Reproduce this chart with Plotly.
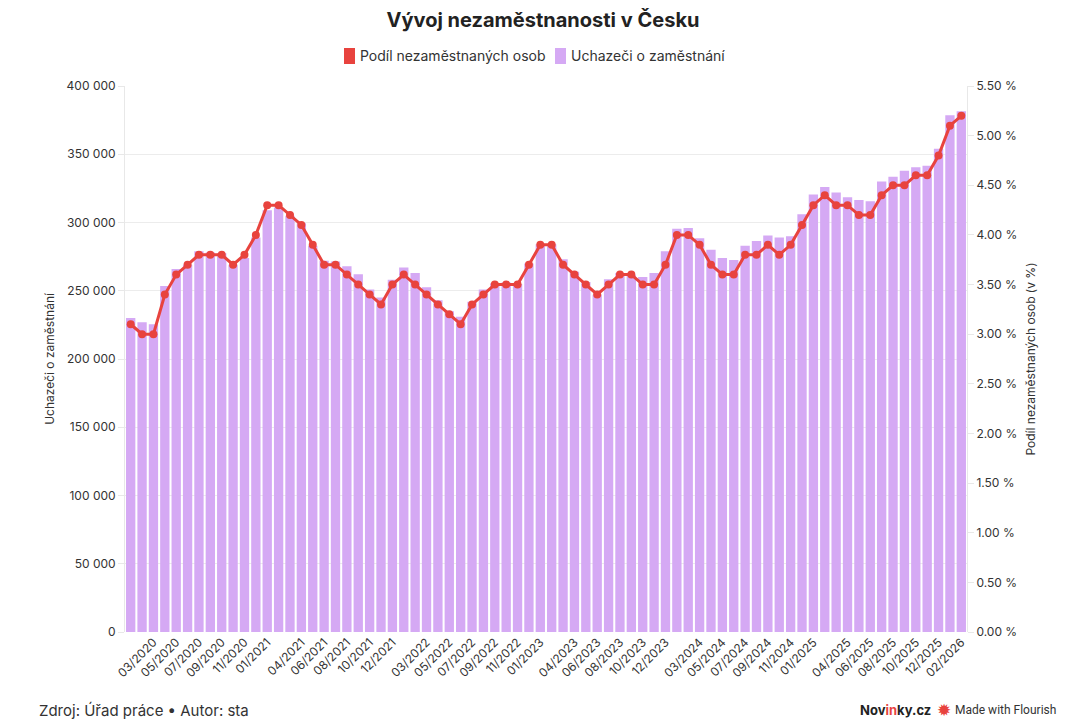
import plotly.graph_objects as go

months = [f"{m:02d}/{y}" for y in range(2020, 2027) for m in range(1, 13)][:74]

uchazeci = [
    230000, 227000, 225500, 253500, 266000, 269000, 279000, 278000, 277500, 269000, 274000, 289000,
    309000, 311000, 305000, 299500, 283000, 272000, 271500, 268000, 262000, 251000, 245000, 258000,
    267000, 263000, 252500, 243000, 235000, 231000, 242000, 251000, 255500, 256000, 255000, 270000,
    284000, 284000, 273000, 264000, 256500, 247000, 258500, 263000, 261500, 260000, 263000, 279000,
    295500, 296000, 288500, 280000, 274000, 272500, 283000, 286500, 290500, 289000, 290000, 306000,
    320500, 326000, 322000, 318500, 316500, 315500, 330000, 333500, 338000, 340500, 341500, 354000,
    378500, 381500,
]

podil = [
    3.1, 3.0, 3.0, 3.4, 3.6, 3.7, 3.8, 3.8, 3.8, 3.7, 3.8, 4.0,
    4.3, 4.3, 4.2, 4.1, 3.9, 3.7, 3.7, 3.6, 3.5, 3.4, 3.3, 3.5,
    3.6, 3.5, 3.4, 3.3, 3.2, 3.1, 3.3, 3.4, 3.5, 3.5, 3.5, 3.7,
    3.9, 3.9, 3.7, 3.6, 3.5, 3.4, 3.5, 3.6, 3.6, 3.5, 3.5, 3.7,
    4.0, 4.0, 3.9, 3.7, 3.6, 3.6, 3.8, 3.8, 3.9, 3.8, 3.9, 4.1,
    4.3, 4.4, 4.3, 4.3, 4.2, 4.2, 4.4, 4.5, 4.5, 4.6, 4.6, 4.8,
    5.1, 5.2,
]

x_ticks = [
    "03/2020", "05/2020", "07/2020", "09/2020", "11/2020", "01/2021", "04/2021", "06/2021",
    "08/2021", "10/2021", "12/2021", "03/2022", "05/2022", "07/2022", "09/2022", "11/2022",
    "01/2023", "04/2023", "06/2023", "08/2023", "10/2023", "12/2023", "03/2024", "05/2024",
    "07/2024", "09/2024", "11/2024", "01/2025", "04/2025", "06/2025", "08/2025", "10/2025",
    "12/2025", "02/2026",
]

left_ticks = list(range(0, 400001, 50000))
right_ticks = [i * 0.5 for i in range(12)]
right_labels = [f"{v:.2f} %" for v in right_ticks]

RED = "#e8433e"
PURPLE = "#d5a9f4"
FONT = "Inter"

# page has an 8px body margin; shift the figure to compensate
OFF = 8
L, T, PW, PH = 125 - OFF, 86 - OFF, 842, 546


def px(xpage):
    return (xpage - OFF - L) / PW


def py(ypage):
    return (T + PH - (ypage - OFF)) / PH


fig = go.Figure()
fig.add_trace(go.Bar(
    x=months, y=uchazeci, name="Uchazeči o zaměstnání",
    marker=dict(color=PURPLE, line=dict(width=0)), showlegend=False, yaxis="y",
))
fig.add_trace(go.Scatter(
    x=months, y=podil, name="Podíl nezaměstnaných osob", mode="lines+markers",
    line=dict(color=RED, width=3), marker=dict(color=RED, size=8),
    showlegend=False, yaxis="y2",
))

fig.update_layout(
    width=1080, height=720,
    paper_bgcolor="white", plot_bgcolor="white",
    separators=". ",
    font=dict(family=FONT, size=12, color="#333333"),
    margin=dict(l=L, r=1080 - L - PW, t=T, b=720 - T - PH),
    bargap=0.18,
    showlegend=False,
    title=dict(
        text="<b>Vývoj nezaměstnanosti v Česku</b>", x=(543 - OFF) / 1080, xanchor="center",
        y=1 - 12 / 720, yanchor="middle", font=dict(size=20, color="#222222", family=FONT),
    ),
    xaxis=dict(
        type="category", categoryorder="array", categoryarray=months,
        range=[-0.5, len(months) - 0.5],
        tickmode="array", tickvals=x_ticks, ticktext=x_ticks, tickangle=-45,
        showgrid=False, showline=False, ticks="",
        tickfont=dict(size=12, color="#333333"), zeroline=False,
    ),
    yaxis=dict(
        range=[0, 400000], tickmode="array", tickvals=left_ticks, tickformat=",d",
        showgrid=True, gridcolor="#ececec", gridwidth=1,
        showline=True, linecolor="#e8e8e8", ticks="outside", ticklen=6, tickcolor="#e8e8e8",
        zeroline=False, tickfont=dict(size=12, color="#333333"),
        title=dict(text="Uchazeči o zaměstnání", font=dict(size=12, color="#333333"), standoff=9),
    ),
    yaxis2=dict(
        range=[0, 5.5], tickmode="array", tickvals=right_ticks, ticktext=right_labels,
        overlaying="y", side="right", showgrid=False,
        showline=True, linecolor="#e8e8e8", ticks="outside", ticklen=6, tickcolor="#e8e8e8",
        zeroline=False, tickfont=dict(size=12, color="#333333"),
        title=dict(text="Podíl nezaměstnaných osob (v %)", font=dict(size=12, color="#333333"), standoff=10),
    ),
)

# legend (built manually to match the compact layout)
legend_items = [
    ("Podíl nezaměstnaných osob", RED, 344),
    ("Uchazeči o zaměstnání", PURPLE, 555),
]
for label, color, xs in legend_items:
    fig.add_shape(
        type="rect", xref="paper", yref="paper",
        x0=px(xs), x1=px(xs + 11), y0=py(64), y1=py(48),
        fillcolor=color, line=dict(width=0), layer="above",
    )
    fig.add_annotation(
        text=label, xref="paper", yref="paper", x=px(xs + 14), xanchor="left",
        y=py(56), yanchor="middle", showarrow=False,
        font=dict(size=14, color="#333333", family=FONT),
    )

fy = py(710)
fig.add_annotation(
    text="Zdroj: Úřad práce • Autor: sta", xref="paper", yref="paper",
    x=px(37), xanchor="left", y=fy, yanchor="middle", showarrow=False,
    font=dict(size=15, color="#333333", family=FONT),
)
fig.add_annotation(
    text="<b>Nov<span style='color:#e8433e'>in</span>ky.cz</b>", xref="paper", yref="paper",
    x=px(933), xanchor="right", y=fy, yanchor="middle", showarrow=False,
    font=dict(size=13, color="#222222", family=FONT),
)
fig.add_annotation(
    text="✹", xref="paper", yref="paper",
    x=px(944), xanchor="center", y=fy, yanchor="middle", showarrow=False,
    font=dict(size=17, color=RED, family="DejaVu Sans"),
)
fig.add_annotation(
    text="Made with Flourish", xref="paper", yref="paper",
    x=px(953), xanchor="left", y=fy, yanchor="middle", showarrow=False,
    font=dict(size=12, color="#333333", family="Roboto"),
)

fig.write_html("out.html")
